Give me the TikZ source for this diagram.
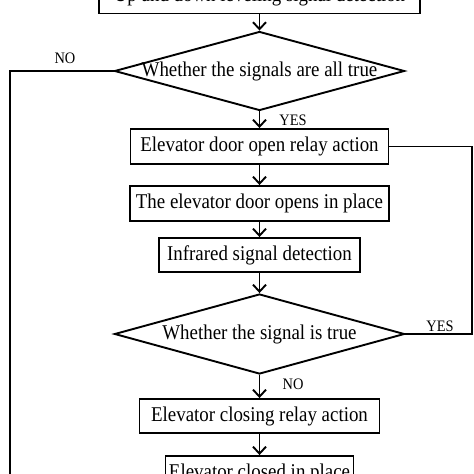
\documentclass[tikz,border=0pt]{standalone}
\usepackage{fontspec}
\setmainfont{Liberation Serif}[FakeStretch=0.9]
\usetikzlibrary{shapes.geometric,arrows.meta}
\tikzset{
  box/.style={draw, line width=1.9pt, rectangle, inner sep=0pt, font=\fontsize{21}{23}\selectfont},
  dec/.style={draw, line width=1.9pt, diamond, inner sep=0pt, minimum width=290pt, minimum height=79pt, label={[font=\fontsize{21}{23}\selectfont]center:#1}},
  conn/.style={line width=1.9pt},
  arr/.style={conn, -{Straight Barb[length=7pt,width=13pt,line width=1.9pt]}},
  lab/.style={font=\fontsize{16}{18}\selectfont, inner sep=0pt}
}
\begin{document}
\begin{tikzpicture}[x=1pt,y=-1pt]
\useasboundingbox (0,0) rectangle (474,474);
\node[box, minimum width=321pt, minimum height=35pt] (b1) at (259.5,-4) {Up and down leveling signal detection};
\node[dec={Whether the signals are all true}] (d1) at (259.5,71) {};
\node[box, minimum width=258pt, minimum height=35pt] (b2) at (259.5,146.5) {Elevator door open relay action};
\node[box, minimum width=259pt, minimum height=35pt] (b3) at (259.5,203.5) {The elevator door opens in place};
\node[box, minimum width=201pt, minimum height=34pt] (b4) at (259.5,255) {Infrared signal detection};
\node[dec={Whether the signal is true}, minimum height=80pt] (d2) at (259.5,334) {};
\node[box, minimum width=240pt, minimum height=34pt] (b5) at (259.5,416) {Elevator closing relay action};
\node[box, minimum width=188pt, minimum height=35pt] (b6) at (259.5,473.5) {Elevator closed in place};
\coordinate (lt) at (10,71);
\coordinate (lb) at (10,500);
\coordinate (rx) at (472,0);
\draw[arr] (b1.south) -- (d1.north);
\draw[arr] (d1.south) -- (b2.north);
\draw[arr] (b2.south) -- (b3.north);
\draw[arr] (b3.south) -- (b4.north);
\draw[arr] (b4.south) -- (d2.north);
\draw[arr] (d2.south) -- (b5.north);
\draw[arr] (b5.south) -- (b6.north);
\draw[conn] (d1.west) -- (lt) -- (lb);
\draw[conn] (d2.east) -- (d2.east -| rx) |- (b2.east);
\node[lab] (n1) at (65,58) {NO};
\node[lab] (y1) at (293,120) {YES};
\node[lab] (y2) at (440,326) {YES};
\node[lab] (n2) at (293,384) {NO};
\end{tikzpicture}
\end{document}
